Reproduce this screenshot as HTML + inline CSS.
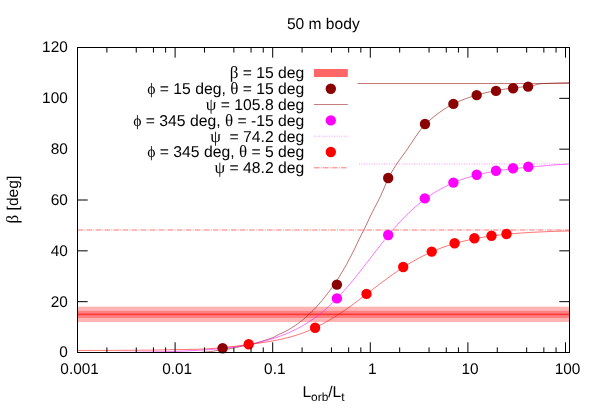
<!DOCTYPE html>
<html><head><meta charset="utf-8"><title>50 m body</title>
<style>html,body{margin:0;padding:0;background:#fff;}svg{display:block;will-change:transform;}text{text-rendering:geometricPrecision;font-family:"Liberation Sans",sans-serif;font-size:15.6px;fill:#000;}.g{font-family:"Liberation Serif",serif;font-size:17px;}.p{font-family:"Liberation Serif",serif;}</style></head><body>
<svg width="598" height="419" viewBox="0 0 598 419">
<rect x="0" y="0" width="598" height="419" fill="#fff"/>
<rect x="77.5" y="306.7" width="492.0" height="15.3" fill="#ffb3b3"/>
<rect x="77.5" y="310.9" width="492.0" height="7.1" fill="#ff8080"/>
<rect x="77.5" y="313.6" width="492.0" height="1.6" fill="#ff3838"/>
<line x1="357.3" y1="83.59" x2="569.5" y2="83.59" stroke="#8b0000" stroke-width="0.75" opacity="0.75"/>
<line x1="359.0" y1="163.91" x2="569.5" y2="163.91" stroke="#ff00ff" stroke-width="0.8" stroke-dasharray="1,1.5" opacity="0.5"/>
<line x1="77.5" y1="229.99" x2="569.5" y2="229.99" stroke="#ff0000" stroke-width="0.9" stroke-dasharray="5.5,1.25,1,1.28" opacity="0.6"/>
<polyline fill="none" stroke="#8b0000" stroke-width="0.7" opacity="0.8" points="77.5,352.50 79.1,352.50 80.8,352.50 82.4,352.50 84.1,352.50 85.7,352.50 87.3,352.50 89.0,352.50 90.6,352.50 92.3,352.50 93.9,352.50 95.5,352.50 97.2,352.50 98.8,352.50 100.5,352.50 102.1,352.50 103.7,352.50 105.4,352.50 107.0,352.50 108.7,352.50 110.3,352.50 111.9,352.50 113.6,352.50 115.2,352.50 116.9,352.50 118.5,352.50 120.1,352.50 121.8,352.50 123.4,352.50 125.1,352.50 126.7,352.50 128.3,352.50 130.0,352.50 131.6,352.50 133.3,352.50 134.9,352.50 136.5,352.50 138.2,352.50 139.8,352.50 141.5,352.50 143.1,352.50 144.7,352.50 146.4,352.50 148.0,352.50 149.7,352.50 151.3,352.50 152.9,352.50 154.6,352.50 156.2,352.50 157.9,352.50 159.5,352.50 161.1,352.50 162.8,352.50 164.4,352.50 166.1,352.50 167.7,352.50 169.3,352.50 171.0,352.50 172.6,352.50 174.3,352.50 175.9,352.50 177.5,352.50 179.2,352.50 180.8,352.50 182.5,352.50 184.1,352.50 185.7,352.50 187.4,352.50 189.0,352.50 190.7,352.50 192.3,352.50 193.9,352.50 195.6,352.50 197.2,352.50 198.9,352.48 200.5,352.38 202.1,352.28 203.8,352.17 205.4,352.06 207.1,351.94 208.7,351.78 210.3,351.57 212.0,351.33 213.6,351.07 215.3,350.79 216.9,350.52 218.5,350.25 220.2,350.00 221.8,349.78 223.5,349.60 225.1,349.41 226.7,349.18 228.4,348.93 230.0,348.66 231.7,348.36 233.3,348.05 234.9,347.72 236.6,347.38 238.2,347.03 239.9,346.67 241.5,346.31 243.1,345.94 244.8,345.57 246.4,345.21 248.1,344.85 249.7,344.50 251.3,344.16 253.0,343.80 254.6,343.40 256.3,342.98 257.9,342.52 259.5,342.04 261.2,341.53 262.8,341.01 264.5,340.47 266.1,339.91 267.7,339.35 269.4,338.79 271.0,338.22 272.7,337.65 274.3,336.96 275.9,336.09 277.6,335.15 279.2,334.25 280.9,333.49 282.5,332.77 284.1,332.00 285.8,331.18 287.4,330.31 289.1,329.40 290.7,328.43 292.3,327.42 294.0,326.36 295.6,325.25 297.3,324.09 298.9,322.89 300.5,321.63 302.2,320.33 303.8,318.98 305.5,317.58 307.1,316.12 308.7,314.62 310.4,313.07 312.0,311.46 313.7,309.80 315.3,308.09 316.9,306.33 318.6,304.51 320.2,302.64 321.9,300.71 323.5,298.73 325.1,296.69 326.8,294.59 328.4,292.44 330.1,290.23 331.7,287.97 333.3,285.64 335.0,283.25 336.6,280.79 338.3,278.26 339.9,275.65 341.5,272.97 343.2,270.21 344.8,267.37 346.5,264.46 348.1,261.46 349.7,258.38 351.4,255.21 353.0,251.97 354.7,248.65 356.3,245.25 357.9,241.78 359.6,238.29 361.2,234.99 362.9,231.80 364.5,228.60 366.1,225.28 367.8,221.73 369.4,218.12 371.1,214.71 372.7,211.44 374.3,208.26 376.0,205.12 377.6,201.94 379.3,198.69 380.9,195.30 382.5,191.71 384.2,187.88 385.8,184.01 387.5,180.29 389.1,176.90 390.7,173.79 392.4,170.89 394.0,168.17 395.7,165.61 397.3,163.17 398.9,160.82 400.6,158.54 402.2,156.28 403.9,154.03 405.5,151.74 407.1,149.39 408.8,146.97 410.4,144.50 412.1,142.02 413.7,139.54 415.3,137.10 417.0,134.71 418.6,132.41 420.3,130.21 421.9,128.15 423.5,126.24 425.2,124.52 426.8,122.94 428.5,121.41 430.1,119.93 431.7,118.51 433.4,117.13 435.0,115.80 436.7,114.51 438.3,113.28 439.9,112.08 441.6,110.94 443.2,109.84 444.9,108.78 446.5,107.76 448.1,106.79 449.8,105.87 451.4,104.98 453.1,104.14 454.7,103.34 456.3,102.57 458.0,101.83 459.6,101.12 461.3,100.43 462.9,99.77 464.5,99.13 466.2,98.52 467.8,97.93 469.5,97.36 471.1,96.82 472.7,96.29 474.4,95.78 476.0,95.29 477.7,94.82 479.3,94.37 480.9,93.93 482.6,93.51 484.2,93.11 485.9,92.72 487.5,92.34 489.1,91.98 490.8,91.63 492.4,91.30 494.1,90.97 495.7,90.66 497.3,90.36 499.0,90.07 500.6,89.80 502.3,89.53 503.9,89.27 505.5,89.03 507.2,88.79 508.8,88.56 510.5,88.34 512.1,88.13 513.7,87.93 515.4,87.74 517.0,87.55 518.7,87.37 520.3,87.20 521.9,87.04 523.6,86.88 525.2,86.74 526.9,86.59 528.5,86.46 530.1,86.25 531.8,85.92 533.4,85.51 535.1,85.06 536.7,84.61 538.3,84.20 540.0,83.87 541.6,83.66 543.3,83.56 544.9,83.47 546.5,83.39 548.2,83.31 549.8,83.24 551.5,83.17 553.1,83.10 554.7,83.04 556.4,82.99 558.0,82.93 559.7,82.88 561.3,82.83 562.9,82.78 564.6,82.73 566.2,82.68 567.9,82.63 569.5,82.58"/>
<polyline fill="none" stroke="#ff00ff" stroke-width="0.7" opacity="0.8" points="77.5,352.50 79.1,352.50 80.8,352.50 82.4,352.50 84.1,352.50 85.7,352.50 87.3,352.50 89.0,352.50 90.6,352.50 92.3,352.50 93.9,352.50 95.5,352.50 97.2,352.50 98.8,352.50 100.5,352.50 102.1,352.50 103.7,352.49 105.4,352.48 107.0,352.47 108.7,352.46 110.3,352.45 111.9,352.44 113.6,352.43 115.2,352.41 116.9,352.40 118.5,352.39 120.1,352.37 121.8,352.36 123.4,352.34 125.1,352.32 126.7,352.31 128.3,352.29 130.0,352.27 131.6,352.25 133.3,352.23 134.9,352.21 136.5,352.19 138.2,352.17 139.8,352.15 141.5,352.12 143.1,352.10 144.7,352.07 146.4,352.04 148.0,352.02 149.7,351.99 151.3,351.96 152.9,351.92 154.6,351.89 156.2,351.86 157.9,351.82 159.5,351.79 161.1,351.75 162.8,351.71 164.4,351.67 166.1,351.62 167.7,351.58 169.3,351.53 171.0,351.49 172.6,351.44 174.3,351.38 175.9,351.33 177.5,351.27 179.2,351.22 180.8,351.16 182.5,351.09 184.1,351.03 185.7,350.96 187.4,350.89 189.0,350.82 190.7,350.74 192.3,350.66 193.9,350.58 195.6,350.49 197.2,350.40 198.9,350.31 200.5,350.22 202.1,350.12 203.8,350.01 205.4,349.90 207.1,349.79 208.7,349.67 210.3,349.55 212.0,349.41 213.6,349.28 215.3,349.13 216.9,348.98 218.5,348.82 220.2,348.66 221.8,348.49 223.5,348.31 225.1,348.13 226.7,347.93 228.4,347.73 230.0,347.53 231.7,347.31 233.3,347.09 234.9,346.86 236.6,346.62 238.2,346.37 239.9,346.11 241.5,345.85 243.1,345.57 244.8,345.29 246.4,344.99 248.1,344.69 249.7,344.37 251.3,344.04 253.0,343.71 254.6,343.36 256.3,343.00 257.9,342.62 259.5,342.24 261.2,341.84 262.8,341.43 264.5,341.00 266.1,340.57 267.7,340.11 269.4,339.64 271.0,339.16 272.7,338.66 274.3,338.14 275.9,337.60 277.6,337.05 279.2,336.47 280.9,335.88 282.5,335.27 284.1,334.63 285.8,333.97 287.4,333.29 289.1,332.58 290.7,331.86 292.3,331.10 294.0,330.32 295.6,329.51 297.3,328.68 298.9,327.81 300.5,326.92 302.2,326.00 303.8,325.05 305.5,324.07 307.1,323.05 308.7,322.00 310.4,320.92 312.0,319.81 313.7,318.66 315.3,317.47 316.9,316.25 318.6,315.00 320.2,313.71 321.9,312.38 323.5,311.01 325.1,309.60 326.8,308.16 328.4,306.68 330.1,305.16 331.7,303.61 333.3,302.01 335.0,300.38 336.6,298.71 338.3,297.01 339.9,295.27 341.5,293.49 343.2,291.68 344.8,289.84 346.5,287.96 348.1,286.06 349.7,284.13 351.4,282.17 353.0,280.18 354.7,278.17 356.3,276.14 357.9,274.09 359.6,272.02 361.2,269.93 362.9,267.83 364.5,265.72 366.1,263.60 367.8,261.48 369.4,259.35 371.1,257.22 372.7,255.09 374.3,252.96 376.0,250.84 377.6,248.73 379.3,246.63 380.9,244.54 382.5,242.47 384.2,240.42 385.8,238.39 387.5,236.37 389.1,234.39 390.7,232.42 392.4,230.49 394.0,228.58 395.7,226.71 397.3,224.86 398.9,223.05 400.6,221.27 402.2,219.53 403.9,217.82 405.5,216.14 407.1,214.50 408.8,212.90 410.4,211.34 412.1,209.81 413.7,208.33 415.3,206.87 417.0,205.46 418.6,204.08 420.3,202.74 421.9,201.44 423.5,200.17 425.2,198.94 426.8,197.75 428.5,196.59 430.1,195.46 431.7,194.37 433.4,193.31 435.0,192.28 436.7,191.29 438.3,190.32 439.9,189.39 441.6,188.49 443.2,187.61 444.9,186.77 446.5,185.95 448.1,185.16 449.8,184.40 451.4,183.66 453.1,182.95 454.7,182.26 456.3,181.59 458.0,180.95 459.6,180.33 461.3,179.73 462.9,179.15 464.5,178.59 466.2,178.05 467.8,177.53 469.5,177.03 471.1,176.55 472.7,176.08 474.4,175.63 476.0,175.20 477.7,174.78 479.3,174.38 480.9,173.99 482.6,173.62 484.2,173.26 485.9,172.91 487.5,172.57 489.1,172.25 490.8,171.94 492.4,171.64 494.1,171.35 495.7,171.07 497.3,170.81 499.0,170.55 500.6,170.30 502.3,170.06 503.9,169.83 505.5,169.61 507.2,169.39 508.8,169.19 510.5,168.99 512.1,168.80 513.7,168.61 515.4,168.44 517.0,168.27 518.7,168.10 520.3,167.95 521.9,167.79 523.6,167.65 525.2,167.51 526.9,167.37 528.5,167.23 530.1,167.09 531.8,166.95 533.4,166.80 535.1,166.65 536.7,166.50 538.3,166.35 540.0,166.20 541.6,166.04 543.3,165.89 544.9,165.74 546.5,165.59 548.2,165.45 549.8,165.30 551.5,165.16 553.1,165.03 554.7,164.90 556.4,164.77 558.0,164.65 559.7,164.54 561.3,164.43 562.9,164.34 564.6,164.25 566.2,164.17 567.9,164.10 569.5,164.04"/>
<polyline fill="none" stroke="#ff0000" stroke-width="0.7" opacity="0.8" points="77.5,350.49 79.1,350.48 80.8,350.48 82.4,350.47 84.1,350.47 85.7,350.46 87.3,350.46 89.0,350.46 90.6,350.45 92.3,350.45 93.9,350.44 95.5,350.44 97.2,350.43 98.8,350.43 100.5,350.43 102.1,350.42 103.7,350.42 105.4,350.41 107.0,350.40 108.7,350.40 110.3,350.39 111.9,350.39 113.6,350.38 115.2,350.37 116.9,350.36 118.5,350.36 120.1,350.35 121.8,350.34 123.4,350.33 125.1,350.32 126.7,350.31 128.3,350.30 130.0,350.29 131.6,350.28 133.3,350.27 134.9,350.25 136.5,350.24 138.2,350.23 139.8,350.21 141.5,350.20 143.1,350.18 144.7,350.16 146.4,350.14 148.0,350.13 149.7,350.11 151.3,350.09 152.9,350.06 154.6,350.04 156.2,350.02 157.9,349.99 159.5,349.96 161.1,349.94 162.8,349.91 164.4,349.88 166.1,349.85 167.7,349.81 169.3,349.78 171.0,349.74 172.6,349.70 174.3,349.66 175.9,349.62 177.5,349.59 179.2,349.56 180.8,349.54 182.5,349.52 184.1,349.50 185.7,349.48 187.4,349.46 189.0,349.45 190.7,349.42 192.3,349.40 193.9,349.36 195.6,349.32 197.2,349.28 198.9,349.22 200.5,349.15 202.1,349.07 203.8,348.99 205.4,348.89 207.1,348.79 208.7,348.69 210.3,348.58 212.0,348.46 213.6,348.33 215.3,348.21 216.9,348.07 218.5,347.93 220.2,347.78 221.8,347.63 223.5,347.48 225.1,347.31 226.7,347.15 228.4,346.98 230.0,346.80 231.7,346.62 233.3,346.44 234.9,346.25 236.6,346.06 238.2,345.87 239.9,345.67 241.5,345.46 243.1,345.26 244.8,345.05 246.4,344.83 248.1,344.62 249.7,344.40 251.3,344.18 253.0,343.96 254.6,343.73 256.3,343.50 257.9,343.27 259.5,343.04 261.2,342.80 262.8,342.55 264.5,342.30 266.1,342.04 267.7,341.77 269.4,341.50 271.0,341.21 272.7,340.92 274.3,340.62 275.9,340.30 277.6,339.98 279.2,339.64 280.9,339.28 282.5,338.92 284.1,338.54 285.8,338.14 287.4,337.73 289.1,337.30 290.7,336.86 292.3,336.40 294.0,335.91 295.6,335.41 297.3,334.89 298.9,334.35 300.5,333.79 302.2,333.20 303.8,332.59 305.5,331.96 307.1,331.31 308.7,330.63 310.4,329.92 312.0,329.19 313.7,328.44 315.3,327.65 316.9,326.85 318.6,326.02 320.2,325.17 321.9,324.30 323.5,323.42 325.1,322.51 326.8,321.58 328.4,320.64 330.1,319.67 331.7,318.68 333.3,317.68 335.0,316.66 336.6,315.62 338.3,314.56 339.9,313.48 341.5,312.39 343.2,311.28 344.8,310.15 346.5,309.01 348.1,307.85 349.7,306.68 351.4,305.50 353.0,304.31 354.7,303.10 356.3,301.89 357.9,300.66 359.6,299.43 361.2,298.19 362.9,296.95 364.5,295.69 366.1,294.44 367.8,293.18 369.4,291.92 371.1,290.66 372.7,289.40 374.3,288.14 376.0,286.89 377.6,285.64 379.3,284.39 380.9,283.15 382.5,281.92 384.2,280.69 385.8,279.48 387.5,278.27 389.1,277.08 390.7,275.89 392.4,274.72 394.0,273.57 395.7,272.43 397.3,271.30 398.9,270.19 400.6,269.09 402.2,268.01 403.9,266.95 405.5,265.91 407.1,264.89 408.8,263.88 410.4,262.89 412.1,261.93 413.7,260.98 415.3,260.05 417.0,259.14 418.6,258.25 420.3,257.38 421.9,256.53 423.5,255.70 425.2,254.90 426.8,254.11 428.5,253.34 430.1,252.59 431.7,251.86 433.4,251.15 435.0,250.45 436.7,249.78 438.3,249.13 439.9,248.49 441.6,247.87 443.2,247.27 444.9,246.69 446.5,246.12 448.1,245.57 449.8,245.04 451.4,244.52 453.1,244.02 454.7,243.54 456.3,243.07 458.0,242.61 459.6,242.17 461.3,241.75 462.9,241.33 464.5,240.93 466.2,240.55 467.8,240.17 469.5,239.81 471.1,239.46 472.7,239.12 474.4,238.79 476.0,238.48 477.7,238.17 479.3,237.88 480.9,237.59 482.6,237.32 484.2,237.05 485.9,236.80 487.5,236.55 489.1,236.31 490.8,236.08 492.4,235.86 494.1,235.64 495.7,235.44 497.3,235.24 499.0,235.04 500.6,234.86 502.3,234.68 503.9,234.50 505.5,234.34 507.2,234.18 508.8,234.02 510.5,233.87 512.1,233.73 513.7,233.59 515.4,233.46 517.0,233.33 518.7,233.20 520.3,233.08 521.9,232.97 523.6,232.86 525.2,232.75 526.9,232.65 528.5,232.55 530.1,232.45 531.8,232.36 533.4,232.27 535.1,232.19 536.7,232.11 538.3,232.03 540.0,231.95 541.6,231.88 543.3,231.81 544.9,231.74 546.5,231.67 548.2,231.61 549.8,231.55 551.5,231.49 553.1,231.43 554.7,231.38 556.4,231.33 558.0,231.28 559.7,231.23 561.3,231.18 562.9,231.14 564.6,231.09 566.2,231.05 567.9,231.01 569.5,230.97"/>
<circle cx="222.6" cy="348.3" r="5.2" fill="#8b0000"/>
<circle cx="336.9" cy="284.6" r="5.2" fill="#8b0000"/>
<circle cx="388.2" cy="178.0" r="5.2" fill="#8b0000"/>
<circle cx="425.0" cy="124.0" r="5.2" fill="#8b0000"/>
<circle cx="453.4" cy="103.9" r="5.2" fill="#8b0000"/>
<circle cx="476.7" cy="95.1" r="5.2" fill="#8b0000"/>
<circle cx="496.0" cy="90.9" r="5.2" fill="#8b0000"/>
<circle cx="513.1" cy="88.3" r="5.2" fill="#8b0000"/>
<circle cx="528.1" cy="86.6" r="5.2" fill="#8b0000"/>
<circle cx="336.9" cy="298.4" r="5.2" fill="#ff00ff"/>
<circle cx="388.2" cy="235.0" r="5.2" fill="#ff00ff"/>
<circle cx="424.8" cy="198.4" r="5.2" fill="#ff00ff"/>
<circle cx="453.4" cy="182.6" r="5.2" fill="#ff00ff"/>
<circle cx="476.7" cy="174.8" r="5.2" fill="#ff00ff"/>
<circle cx="496.0" cy="170.8" r="5.2" fill="#ff00ff"/>
<circle cx="513.0" cy="168.3" r="5.2" fill="#ff00ff"/>
<circle cx="528.3" cy="166.8" r="5.2" fill="#ff00ff"/>
<circle cx="248.7" cy="344.2" r="5.2" fill="#ff0000"/>
<circle cx="315.1" cy="327.7" r="5.2" fill="#ff0000"/>
<circle cx="366.5" cy="293.9" r="5.2" fill="#ff0000"/>
<circle cx="403.2" cy="267.0" r="5.2" fill="#ff0000"/>
<circle cx="431.7" cy="251.6" r="5.2" fill="#ff0000"/>
<circle cx="454.6" cy="243.3" r="5.2" fill="#ff0000"/>
<circle cx="474.4" cy="238.3" r="5.2" fill="#ff0000"/>
<circle cx="491.5" cy="235.8" r="5.2" fill="#ff0000"/>
<circle cx="506.5" cy="234.0" r="5.2" fill="#ff0000"/>
<path d="M77.50 352.50v-10.20M77.50 47.50v10.20M106.88 352.50v-5.10M106.88 47.50v5.10M136.26 352.50v-5.10M136.26 47.50v5.10M153.45 352.50v-5.10M153.45 47.50v5.10M165.64 352.50v-5.10M165.64 47.50v5.10M175.10 352.50v-10.20M175.10 47.50v10.20M204.48 352.50v-5.10M204.48 47.50v5.10M233.86 352.50v-5.10M233.86 47.50v5.10M251.05 352.50v-5.10M251.05 47.50v5.10M263.24 352.50v-5.10M263.24 47.50v5.10M272.70 352.50v-10.20M272.70 47.50v10.20M302.08 352.50v-5.10M302.08 47.50v5.10M331.46 352.50v-5.10M331.46 47.50v5.10M348.65 352.50v-5.10M348.65 47.50v5.10M360.84 352.50v-5.10M360.84 47.50v5.10M370.30 352.50v-10.20M370.30 47.50v10.20M399.68 352.50v-5.10M399.68 47.50v5.10M429.06 352.50v-5.10M429.06 47.50v5.10M446.25 352.50v-5.10M446.25 47.50v5.10M458.44 352.50v-5.10M458.44 47.50v5.10M467.90 352.50v-10.20M467.90 47.50v10.20M497.28 352.50v-5.10M497.28 47.50v5.10M526.66 352.50v-5.10M526.66 47.50v5.10M543.85 352.50v-5.10M543.85 47.50v5.10M556.04 352.50v-5.10M556.04 47.50v5.10M565.50 352.50v-10.20M565.50 47.50v10.20M77.50 352.50h10.20M569.50 352.50h-10.20M77.50 301.67h10.20M569.50 301.67h-10.20M77.50 250.83h10.20M569.50 250.83h-10.20M77.50 200.00h10.20M569.50 200.00h-10.20M77.50 149.17h10.20M569.50 149.17h-10.20M77.50 98.33h10.20M569.50 98.33h-10.20M77.50 47.50h10.20M569.50 47.50h-10.20" stroke="#000" stroke-width="1" fill="none"/>
<rect x="78" y="62" width="279.3" height="114" fill="#fff"/>
<text x="304.3" y="78.3" text-anchor="end" xml:space="preserve" style="font-size:15.72px"><tspan class="g">β</tspan> = 15 deg</text>
<text x="304.3" y="94.1" text-anchor="end" xml:space="preserve" style="font-size:15.72px"><tspan class="p">ϕ</tspan> = 15 deg, <tspan class="g">θ</tspan> = 15 deg</text>
<text x="304.3" y="109.9" text-anchor="end" xml:space="preserve" style="font-size:15.72px"><tspan class="g">ψ</tspan> = 105.8 deg</text>
<text x="304.3" y="125.7" text-anchor="end" xml:space="preserve" style="font-size:15.72px"><tspan class="p">ϕ</tspan> = 345 deg, <tspan class="g">θ</tspan> = -15 deg</text>
<text x="304.3" y="141.5" text-anchor="end" xml:space="preserve" style="font-size:15.72px"><tspan class="g">ψ</tspan>  = 74.2 deg</text>
<text x="304.3" y="157.3" text-anchor="end" xml:space="preserve" style="font-size:15.72px"><tspan class="p">ϕ</tspan> = 345 deg, <tspan class="g">θ</tspan> = 5 deg</text>
<text x="304.3" y="173.1" text-anchor="end" xml:space="preserve" style="font-size:15.72px"><tspan class="g">ψ</tspan> = 48.2 deg</text>
<rect x="314.0" y="69.0" width="33.8" height="8.0" fill="#ff6666"/>
<circle cx="330.8" cy="88.8" r="5.2" fill="#8b0000"/>
<line x1="314.0" y1="104.6" x2="347.8" y2="104.6" stroke="#8b0000" stroke-width="0.75" opacity="0.75"/>
<circle cx="330.8" cy="120.4" r="5.2" fill="#ff00ff"/>
<line x1="314.0" y1="136.2" x2="347.8" y2="136.2" stroke="#ff00ff" stroke-width="0.8" stroke-dasharray="1,1.5" opacity="0.5"/>
<circle cx="330.8" cy="152.0" r="5.2" fill="#ff0000"/>
<line x1="314.0" y1="167.8" x2="347.8" y2="167.8" stroke="#ff0000" stroke-width="0.9" stroke-dasharray="5.5,1.25,1,1.28" opacity="0.6"/>
<rect x="77.5" y="47.5" width="492.0" height="305.0" fill="none" stroke="#000" stroke-width="1"/>
<text x="67.8" y="357.4" text-anchor="end" style="font-size:15.4px">0</text>
<text x="67.8" y="306.6" text-anchor="end" style="font-size:15.4px">20</text>
<text x="67.8" y="255.7" text-anchor="end" style="font-size:15.4px">40</text>
<text x="67.8" y="204.9" text-anchor="end" style="font-size:15.4px">60</text>
<text x="67.8" y="154.1" text-anchor="end" style="font-size:15.4px">80</text>
<text x="67.8" y="103.2" text-anchor="end" style="font-size:15.4px">100</text>
<text x="67.8" y="52.4" text-anchor="end" style="font-size:15.4px">120</text>
<text x="79.6" y="374.3" text-anchor="middle" style="font-size:15.4px">0.001</text>
<text x="177.2" y="374.3" text-anchor="middle" style="font-size:15.4px">0.01</text>
<text x="274.8" y="374.3" text-anchor="middle" style="font-size:15.4px">0.1</text>
<text x="372.4" y="374.3" text-anchor="middle" style="font-size:15.4px">1</text>
<text x="470.0" y="374.3" text-anchor="middle" style="font-size:15.4px">10</text>
<text x="567.6" y="374.3" text-anchor="middle" style="font-size:15.4px">100</text>
<text x="323.3" y="28.8" text-anchor="middle">50 m body</text>
<text x="302.4" y="396.5" text-anchor="start">L<tspan font-size="11.9px" dy="4.5">orb</tspan><tspan dy="-4.5">/L</tspan><tspan font-size="11.9px" dy="4.5">t</tspan></text>
<text transform="translate(17.8,199.6) rotate(-90)" text-anchor="middle" xml:space="preserve"><tspan class="g">β</tspan> [deg]</text>
</svg></body></html>
